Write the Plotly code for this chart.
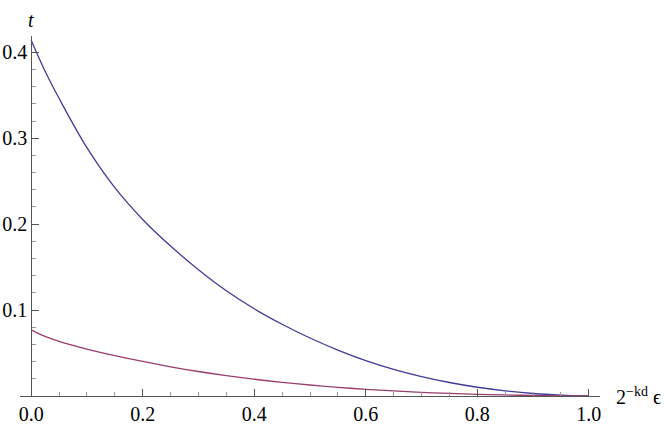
import plotly.graph_objects as go

x_vals = [0.0, 0.025, 0.05, 0.1, 0.15, 0.2, 0.25, 0.3, 0.35, 0.4, 0.45, 0.5,
          0.55, 0.6, 0.65, 0.7, 0.75, 0.8, 0.85, 0.9, 0.95, 1.0]
blue_t = [0.414, 0.378, 0.3465, 0.289, 0.2425, 0.2055, 0.1745, 0.147, 0.1225, 0.1015, 0.0835, 0.0675,
          0.0535, 0.0412, 0.0310, 0.0226, 0.0157, 0.0102, 0.0060, 0.0029, 0.0010, 0.0]
red_t = [0.077, 0.0693, 0.0635, 0.0545, 0.047, 0.0402, 0.034, 0.0285, 0.0237, 0.0195, 0.0159, 0.0128,
         0.0101, 0.0078, 0.0059, 0.0043, 0.0030, 0.0020, 0.0012, 0.0006, 0.0002, 0.0]

x_ticks = [0.0, 0.2, 0.4, 0.6, 0.8, 1.0]
y_ticks = [0.1, 0.2, 0.3, 0.4]

x_range = [-0.02, 1.02]
y_range = [0.0, 0.419]

font_family = "'Times New Roman', Times, 'Liberation Serif', 'DejaVu Serif', serif"
axis_color = "#555555"
fs = 20

fig = go.Figure()
fig.add_trace(go.Scatter(x=x_vals, y=blue_t, mode="lines", line_shape="spline",
                         line=dict(color="rgb(64,61,153)", width=1.3)))
fig.add_trace(go.Scatter(x=x_vals, y=red_t, mode="lines", line_shape="spline",
                         line=dict(color="rgb(153,61,113)", width=1.3)))

ypos = (0 - x_range[0]) / (x_range[1] - x_range[0])

fig.update_layout(
    width=664, height=425,
    margin=dict(l=20, r=64, t=36, b=29),
    paper_bgcolor="white", plot_bgcolor="white",
    showlegend=False,
    font=dict(family=font_family, size=fs, color="black"),
    xaxis=dict(range=x_range, domain=[0, 1], showgrid=False, zeroline=False,
               automargin=False,
               showline=True, linecolor=axis_color, linewidth=1,
               tickvals=x_ticks, ticktext=[f"{v:.1f}" for v in x_ticks],
               ticks="inside", ticklen=7, tickcolor=axis_color, tickwidth=1,
               minor=dict(dtick=0.05, tick0=0, ticks="inside", ticklen=4,
                          tickcolor="#999999", showgrid=False),
               tickfont=dict(family=font_family, size=fs)),
    yaxis=dict(range=y_range, anchor="free", position=ypos, showgrid=False,
               automargin=False,
               zeroline=False, showline=True, linecolor=axis_color, linewidth=1,
               tickvals=y_ticks, ticktext=[f"{v:.1f}" for v in y_ticks],
               ticks="inside", ticklen=7, tickcolor=axis_color, tickwidth=1,
               minor=dict(dtick=0.02, tick0=0, ticks="inside", ticklen=4,
                          tickcolor="#999999", showgrid=False),
               tickfont=dict(family=font_family, size=fs)),
)

fig.add_annotation(x=0, y=1, xref="x", yref="paper", text="<i>t</i>",
                   showarrow=False, xanchor="center", yanchor="bottom", yshift=3,
                   font=dict(family=font_family, size=fs))
fig.add_annotation(x=1, y=0, xref="paper", yref="y",
                   text="2<sup>−kd</sup> ϵ",
                   showarrow=False, xanchor="left", yanchor="middle", xshift=14,
                   font=dict(family=font_family, size=fs))

# remove the default 8px page margin so the figure sits at the window's corner
fig.write_html("out.html", config={"displayModeBar": False},
               post_script="document.body.style.margin='0';")
